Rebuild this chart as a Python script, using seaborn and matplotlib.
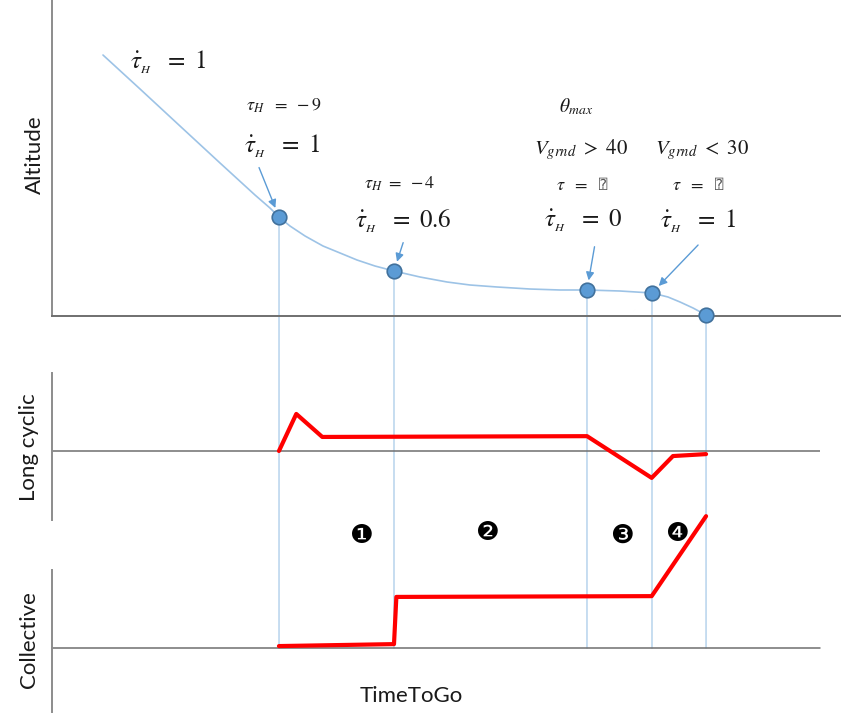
import seaborn as sns
import matplotlib.pyplot as plt
import pandas as pd
from matplotlib.patches import ConnectionPatch

# 降下プロファイル（時間軸: TimeToGo の任意単位）
curve_t = [6.47, 11.17, 16.24, 21.32, 25.76, 27.66, 28.81, 30.20, 32.11, 34.39,
           36.55, 38.71, 40.99, 43.40, 46.70, 50.13, 53.05, 56.47, 60.66, 64.47,
           67.89, 72.08, 76.14, 78.17, 79.70, 81.35, 83.00]
curve_alt = [82.59, 71.84, 60.13, 48.42, 38.29, 34.18, 31.33, 28.48, 25.32, 22.15,
             19.94, 17.72, 15.82, 14.24, 12.34, 10.76, 9.81, 9.18, 8.54, 8.23,
             8.23, 7.91, 7.28, 6.01, 4.43, 2.53, 0.32]

# イベント点
event_t = [28.81, 43.40, 67.89, 76.14, 83.00]
event_alt = [31.33, 14.24, 8.23, 7.28, 0.32]

# 操縦入力
cyc_t = [28.8, 31.0, 34.3, 67.9, 76.1, 78.8, 83.0]
cyc_val = [0.0, 0.95, 0.36, 0.38, -0.69, -0.13, -0.08]
col_t = [28.8, 43.4, 43.7, 76.1, 83.0]
col_val = [0.05, 0.10, 1.31, 1.33, 3.38]

phase_labels = ['❶', '❷', '❸', '❹']

W, H = 846, 716
sns.set_style('white')
plt.rcParams['font.family'] = ['Lato', 'DejaVu Sans']
plt.rcParams['mathtext.fontset'] = 'stix'
plt.rcParams['text.color'] = '#1a1a1a'

fig = plt.figure(figsize=(W / 100, H / 100), dpi=100)


def box(l, t, r, b):
    return [l / W, 1 - b / H, (r - l) / W, (b - t) / H]


def px(x, y):
    return (x / W, 1 - y / H)


grey = '#8c8c8c'
ax_alt = fig.add_axes(box(52, 0, 840, 316))
ax_cyc = fig.add_axes(box(52, 373, 820, 520))
ax_col = fig.add_axes(box(52, 570, 820, 712))

ax_alt.set_xlim(0, 100)
ax_alt.set_ylim(0, 100)
ax_cyc.set_xlim(0, 97.46)
ax_cyc.set_ylim(-1.77, 2.0)
ax_col.set_xlim(0, 97.46)
ax_col.set_ylim(-1.64, 2.0)

for ax in (ax_alt, ax_cyc, ax_col):
    ax.patch.set_alpha(0)
    ax.set_xticks([])
    ax.set_yticks([])
    for s in ('top', 'right', 'bottom'):
        ax.spines[s].set_visible(False)
    ax.spines['left'].set_color(grey)
    ax.spines['left'].set_linewidth(1.4)
ax_alt.spines['bottom'].set_visible(True)
ax_alt.spines['bottom'].set_color('#6f6f6f')
ax_alt.spines['bottom'].set_linewidth(1.4)
ax_cyc.axhline(0, color='#6f6f6f', lw=1.1)
ax_col.axhline(0, color='#6f6f6f', lw=1.1)

# 高度カーブ
df = pd.DataFrame({'t': curve_t, 'alt': curve_alt})
sns.lineplot(data=df, x='t', y='alt', ax=ax_alt, color='#9dc3e6', lw=1.2,
             sort=False, zorder=2)
ev = pd.DataFrame({'t': event_t, 'alt': event_alt})
sns.scatterplot(data=ev, x='t', y='alt', ax=ax_alt, s=110, color='#5b9bd5',
                edgecolor='#41719c', linewidth=1.2, zorder=5, clip_on=False)

# イベントの縦線
for t, a in zip(event_t, event_alt):
    con = ConnectionPatch(xyA=(t, a), coordsA=ax_alt.transData,
                          xyB=(t, 0), coordsB=ax_col.transData,
                          color='#bdd7ee', lw=1.2, zorder=-1)
    fig.add_artist(con)

# 操縦入力ライン
sns.lineplot(x=cyc_t, y=cyc_val, ax=ax_cyc, color='red', lw=3, sort=False,
             zorder=4)
sns.lineplot(x=col_t, y=col_val, ax=ax_col, color='red', lw=3, sort=False,
             zorder=4)
for line in ax_col.lines:
    line.set_clip_on(False)

# 軸ラベル
fig.text(*px(35, 155), 'Altitude', rotation=90, ha='center', va='center',
         fontsize=16)
fig.text(*px(29, 447), 'Long cyclic', rotation=90, ha='center', va='center',
         fontsize=16)
fig.text(*px(29, 640), 'Collective', rotation=90, ha='center', va='center',
         fontsize=16)
fig.text(*px(411, 696), 'TimeToGo', ha='center', va='center', fontsize=16)

# 注記
big = 18
small = 13
tdot = r'$\dot{\tau}_{_{H}}\ \ =\ %s$'
fig.text(*px(168, 62), tdot % '1', ha='center', va='center', fontsize=big)
fig.text(*px(284, 106), r'$\tau_{H}\ \ =\ -9$', ha='center', va='center', fontsize=small)
fig.text(*px(282, 146), tdot % '1', ha='center', va='center', fontsize=big)
fig.text(*px(400, 184), r'$\tau_{H}\ =\ -4$', ha='center', va='center', fontsize=small)
fig.text(*px(403, 221), tdot % '0.6', ha='center', va='center', fontsize=big)
fig.text(*px(576, 107), r'$\theta_{max}$', ha='center', va='center', fontsize=14)
fig.text(*px(581, 150), r'$V_{grnd}\ >\ 40$', ha='center', va='center', fontsize=15)
fig.text(*px(702, 150), r'$V_{grnd}\ <\ 30$', ha='center', va='center', fontsize=15)
for x in (581, 697):
    fig.text(*px(x - 9, 185), r'$\tau\ \ =$', ha='center', va='center', fontsize=small)
    fig.text(*px(x + 22, 185), '⍰', ha='center', va='center', fontsize=10,
             family=['DejaVu Sans', 'DejaVu Sans Mono'], color='#555555')
fig.text(*px(583, 221), tdot % '0', ha='center', va='center', fontsize=big)
fig.text(*px(698, 221), tdot % '1', ha='center', va='center', fontsize=big)

# 矢印
arrows = [(258, 165), (404, 240), (595, 244), (700, 243)]
for i, (x0, y0) in enumerate(arrows):
    ax_alt.annotate('', xy=(event_t[i], event_alt[i]), xycoords='data',
                    xytext=px(x0, y0), textcoords='figure fraction',
                    arrowprops=dict(arrowstyle='-|>', color='#5b9bd5', lw=1,
                                    mutation_scale=12, shrinkB=7))

# フェーズ番号
for (x, y), lab in zip([(362, 536), (488, 533), (622, 536), (677, 534)], phase_labels):
    fig.text(*px(x, y), lab, ha='center', va='center', fontsize=19,
             family=['DejaVu Sans'], color='black')

fig.savefig('out.png', dpi=100, facecolor='white')
